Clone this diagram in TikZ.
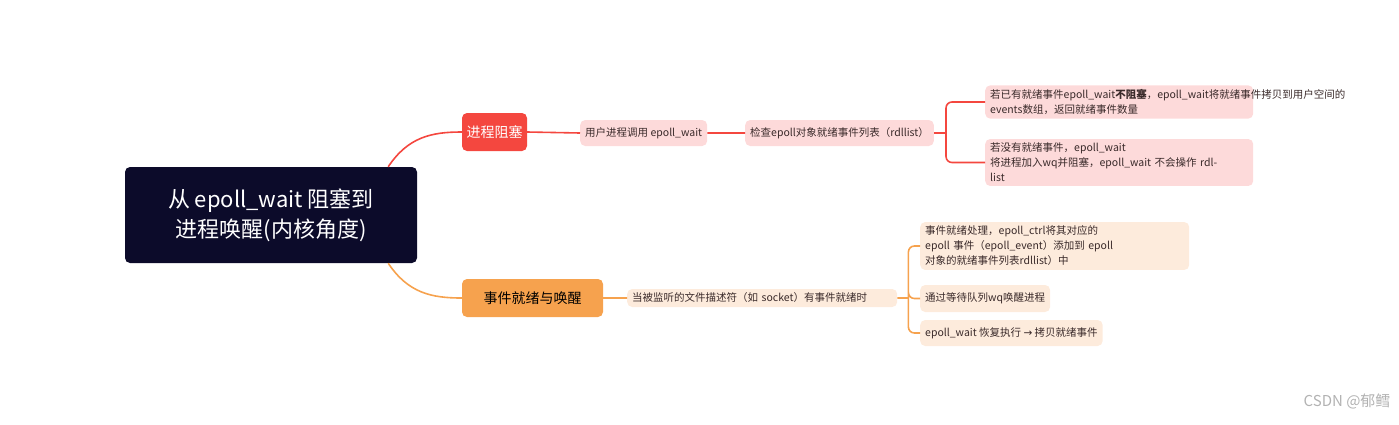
\documentclass[tikz,border=0pt]{standalone}
\usepackage{fontspec}
\setmainfont{Noto Sans CJK SC}
\newfontfamily\symfont{DejaVu Sans}
\usetikzlibrary{positioning}
\definecolor{rootbg}{HTML}{0C0B2A}
\definecolor{redmain}{HTML}{F4473F}
\definecolor{redleaf}{HTML}{FDDADA}
\definecolor{orgmain}{HTML}{F6A24E}
\definecolor{orgleaf}{HTML}{FDEBDC}
\definecolor{txt}{HTML}{3A2A2A}
\begin{document}
\begin{tikzpicture}[x=1pt,y=-1pt]
        \tikzset{topic/.style= {rounded corners=5pt, align=center, inner sep=0pt},
                 leaf/.style= {rounded corners=5pt, align=left, inner xsep=5pt, inner ysep=4pt, anchor=west, text=txt, font=\fontsize{10.5}{15}\selectfont},
                 redline/.style= {draw=redmain, line width=1.6pt},
                 orgline/.style= {draw=orgmain, line width=1.6pt},
        }
        \useasboundingbox (0,0) rectangle (1399,424);

        \node [topic, fill=rootbg, text=white, minimum width=292pt, minimum height=96pt, font=\fontsize{22}{30}\selectfont] (root) at (271,215) {从 epoll\_wait 阻塞到\\进程唤醒(内核角度)};

        \node [topic, fill=redmain, text=white, minimum width=65pt, minimum height=38pt, font=\fontsize{14}{18}\selectfont] (block) at (494.5,132) {进程阻塞};
        \node [topic, fill=orgmain, text=black, minimum width=141pt, minimum height=38pt, font=\fontsize{14}{18}\selectfont] (wake) at (532.5,298) {事件就绪与唤醒};

        \node [leaf, fill=redleaf, minimum height=26pt] (call) at (580,133) {用户进程调用 epoll\_wait};
        \node [leaf, fill=redleaf, minimum height=26pt] (check) at (745,133) {检查epoll对象就绪事件列表（rdllist）};
        \node [leaf, fill=redleaf, text width=258pt] (ready) at (985,102) {若已有就绪事件epoll\_wait\textbf{不阻塞}，epoll\_wait将就绪事件拷贝到用户空间的 events数组，返回就绪事件数量};
        \node [leaf, fill=redleaf, text width=258pt] (none) at (985,162.5) {若没有就绪事件，epoll\_wait 将进程加入wq并阻塞，epoll\_wait 不会操作 rdllist};

        \node [leaf, fill=orgleaf, text width=260pt] (fd) at (627,298) {当被监听的文件描述符（如 socket）有事件就绪时};
        \node [leaf, fill=orgleaf, text width=259pt] (ctl) at (920,246) {事件就绪处理，epoll\_ctrl将其对应的 epoll 事件（epoll\_event）添加到 epoll 对象的就绪事件列表rdllist）中};
        \node [leaf, fill=orgleaf, minimum height=27pt] (wq) at (920,298.5) {通过等待队列wq唤醒进程};
        \node [leaf, fill=orgleaf, minimum height=26pt] (resume) at (920,333) {epoll\_wait 恢复执行 {\symfont →} 拷贝就绪事件};

        \node [text=gray!60, font=\fontsize{15}{18}\selectfont, anchor=east] (mark) at (1394,401) {CSDN @郁鳕};

        % connectors
        \path[redline]
            (root.north east) ++(-29,0) coordinate (rtop)
            (rtop) .. controls +(20,-30) and +(-30,0) .. (block.west)
            (block.east) -- (call.west)
            (call.east) -- (check.west);
        \path[redline, rounded corners=6pt]
            (check.east) -- ++(12,0) coordinate (rfork)
            (rfork) |- (ready.west)
            (rfork) |- (none.west);
        \path[orgline]
            (root.south east) ++(-29,0) coordinate (rbot)
            (rbot) .. controls +(20,30) and +(-30,0) .. (wake.west)
            (wake.east) -- (fd.west);
        \path[orgline, rounded corners=6pt]
            (fd.east) -- ++(11,0) coordinate (ofork)
            (ofork) |- (ctl.west)
            (ofork) |- (wq.west)
            (ofork) |- (resume.west);
\end{tikzpicture}
\end{document}
